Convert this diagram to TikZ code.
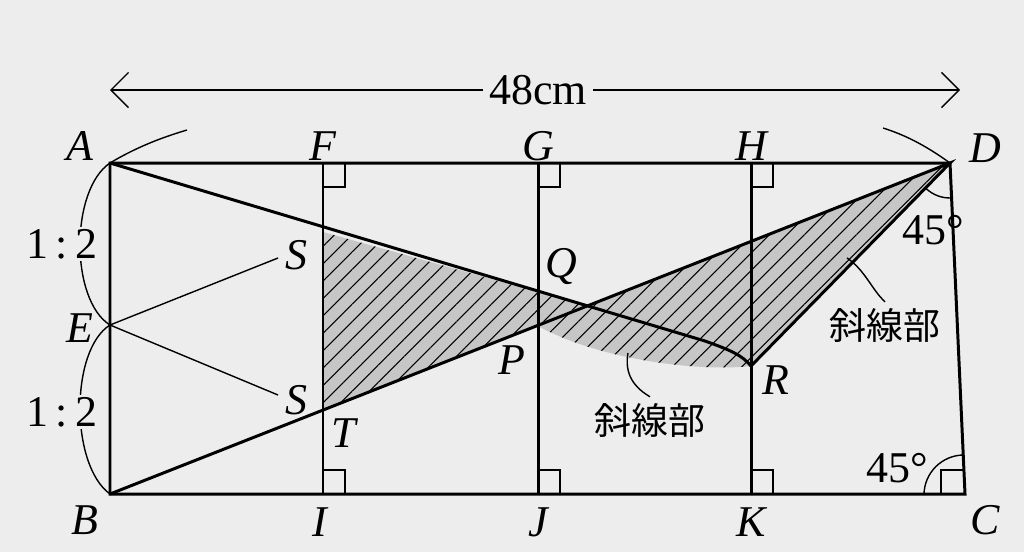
\documentclass[tikz,border=0pt]{standalone}
\usepackage{fontspec}
\setmainfont{Liberation Serif}
\newfontfamily\jpfont{Noto Sans CJK JP}
\usetikzlibrary{patterns.meta, arrows.meta}

\begin{document}
\begin{tikzpicture}[x=0.02cm, y=-0.02cm,
    lbl/.style={font=\fontsize{25}{28}\selectfont\itshape},
    num/.style={font=\fontsize{25}{28}\selectfont},
    jp/.style={font=\fontsize{21}{24}\selectfont\jpfont},
    thin line/.style={line width=0.8pt},
    main line/.style={line width=1.7pt}]
    \fill[white!93!black] (0,0) rectangle (1024,552);
    \useasboundingbox (0,0) rectangle (1024,552);

    % points
    \coordinate (A) at (110,163); \coordinate (D) at (950,163);
    \coordinate (B) at (110,494); \coordinate (C) at (965,494);
    \coordinate (E) at (110,325);
    \coordinate (F) at (323,163); \coordinate (I) at (323,494);
    \coordinate (G) at (538,163); \coordinate (J) at (538,494);
    \coordinate (H) at (751,163); \coordinate (K) at (751,494);
    \coordinate (S) at (323,232); \coordinate (T) at (323,410);
    \coordinate (X) at (585,305); \coordinate (P) at (538,326);
    \coordinate (R) at (751,366); \coordinate (M) at (705,341);

    % shaded parts
    \fill[gray!45] (S) -- (X) -- (T) -- cycle;
    \fill[gray!45] (P) -- (D) -- (R) .. controls (700,372) and (600,360) .. (P) -- cycle;
    \fill[pattern={Lines[angle=45,distance=7pt,line width=0.6pt]}] (S) -- (X) -- (T) -- cycle;
    \fill[pattern={Lines[angle=45,distance=7pt,line width=0.6pt]}]
        (P) -- (D) -- (R) .. controls (700,372) and (600,360) .. (P) -- cycle;

    % frame and lines
    \draw[main line] (A) -- (D) -- (C) -- (B) -- cycle;
    \foreach \u/\v in {F/I, G/J, H/K}{
        \draw[main line] (\u) -- (\v);
    }
    \draw[main line] (B) -- (D) -- (R);
    \draw[main line] (A) -- (M) .. controls (730,350) and (742,355) .. (R);
    \draw[thin line] (278,258) -- (E) -- (278,395);

    % right angles
    \foreach \x in {323,538,751}{
        \draw[thin line] (\x,163) rectangle ++(22,24);
        \draw[thin line] (\x,494) rectangle ++(22,-24);
    }
    \draw[thin line] (941,494) -- (941,470) -- (964,470);
    \draw[thin line] (964,455) arc[start angle=270, end angle=180, radius=40];
    \draw[thin line] (D) ++(88:35) arc[start angle=88, end angle=134, radius=35];

    % length arrow
    \node[num] (len) at (538,90) {48cm};
    \draw[thin line, -{Straight Barb[length=10pt]}] (len) -- (110,90);
    \draw[thin line, -{Straight Barb[length=10pt]}] (len) -- (960,90);
    \draw[thin line] (A) .. controls (135,148) and (160,138) .. (187,130);
    \draw[thin line] (D) .. controls (925,145) and (905,135) .. (883,128);

    % ratio arcs
    \draw[thin line] (A) .. controls (70,190) and (70,300) .. (E);
    \draw[thin line] (E) .. controls (70,350) and (70,465) .. (B);
    \node[num, fill=white!93!black, inner sep=1pt] (r1) at (62,244) {1\,:\,2};
    \node[num, fill=white!93!black, inner sep=1pt] (r2) at (62,412) {1\,:\,2};

    % labels
    \node[lbl] (lA) at (80,146) {A};
    \node[lbl] (lF) at (323,146) {F};
    \node[lbl] (lG) at (538,146) {G};
    \node[lbl] (lH) at (751,146) {H};
    \node[lbl] (lD) at (985,148) {D};
    \node[lbl] (lE) at (80,328) {E};
    \node[lbl] (lB) at (85,520) {B};
    \node[lbl] (lI) at (320,522) {I};
    \node[lbl] (lJ) at (538,522) {J};
    \node[lbl] (lK) at (751,522) {K};
    \node[lbl] (lC) at (985,520) {C};
    \node[lbl] (lS1) at (296,255) {S};
    \node[lbl] (lS2) at (296,400) {S};
    \node[lbl] (lT) at (344,433) {T};
    \node[lbl] (lQ) at (561,267) {Q};
    \node[lbl] (lP) at (512,360) {P};
    \node[lbl] (lR) at (776,380) {R};
    \node[num] (a1) at (933,230) {45°};
    \node[num] (a2) at (897,468) {45°};

    % notes
    \node[jp] (n1) at (885,325) {斜線部};
    \node[jp] (n2) at (650,420) {斜線部};
    \draw[thin line] (847,258) .. controls (865,270) and (872,290) .. (n1.north);
    \draw[thin line] (628,353) .. controls (625,370) and (630,385) .. (n2.north);
\end{tikzpicture}
\end{document}
